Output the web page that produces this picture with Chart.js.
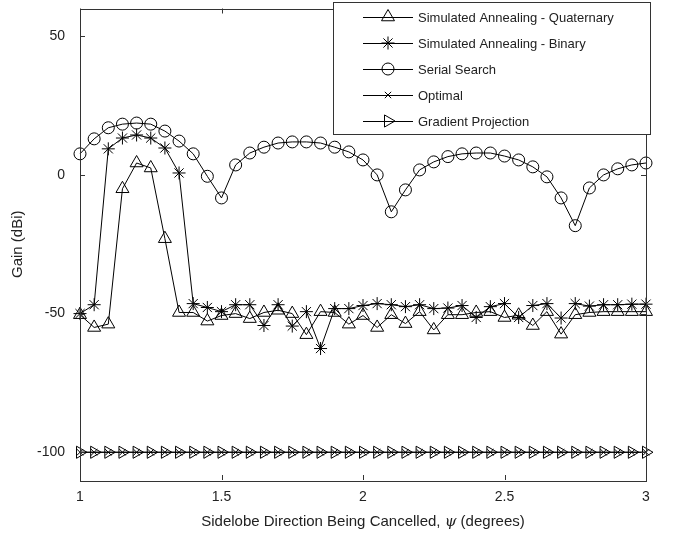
<!DOCTYPE html>
<html>
<head>
<meta charset="utf-8">
<script src="https://cdn.jsdelivr.net/npm/chart.js@4"></script>
<style>
  html, body { margin: 0; padding: 0; background: #fff; }
  #wrap { width: 700px; height: 540px; }
</style>
</head>
<body>
<div id="wrap"><canvas id="gainChart"></canvas></div>
<script>
// sidelobe direction psi (degrees)
const psi = [1.00, 1.05, 1.10, 1.15, 1.20, 1.25, 1.30, 1.35, 1.40, 1.45,
             1.50, 1.55, 1.60, 1.65, 1.70, 1.75, 1.80, 1.85, 1.90, 1.95,
             2.00, 2.05, 2.10, 2.15, 2.20, 2.25, 2.30, 2.35, 2.40, 2.45,
             2.50, 2.55, 2.60, 2.65, 2.70, 2.75, 2.80, 2.85, 2.90, 2.95, 3.00];

const saQuaternary = [-50.4, -55, -53.8, -5, 4.3, 2.5, -23, -49.6, -49.6, -52.7,
                      -50.7, -50, -51.8, -49.6, -48.8, -50, -57.6, -49.3, -49.6, -53.8,
                      -50.7, -55, -50.4, -53.6, -49.3, -55.9, -50.4, -50.4, -49.6, -49.3,
                      -51.4, -50.6, -54.3, -49.3, -57.4, -50.4, -49.6, -49.3, -49.3, -49.3, -49.3];

const saBinary = [-50, -46.8, 9.4, 13.3, 14.4, 13.3, 9.7, 0.7, -46.4, -47.8,
                  -49.3, -46.8, -46.8, -54.3, -46.8, -54.5, -49.3, -62.6, -48.2, -48.2,
                  -47.1, -46.4, -46.8, -47.5, -46.8, -48.2, -48.0, -47.1, -51.4, -47.5,
                  -46.4, -51.4, -47.1, -46.4, -51.6, -46.4, -47.3, -46.8, -46.8, -46.6, -46.6];

const serialSearch = [7.6, 13, 17, 18.3, 18.7, 18.3, 15.8, 12.2, 7.6, -0.5,
                      -8.3, 3.6, 7.9, 10, 11.5, 11.9, 11.9, 11.5, 10, 8.3,
                      5.4, 0, -13.3, -5.4, 1.8, 4.7, 6.6, 7.6, 7.9, 7.9,
                      6.8, 5.4, 2.9, -0.7, -8.3, -18.3, -4.7, 0, 2.2, 3.6, 4.3];

const optimal = [-100, -100, -100, -100, -100, -100, -100, -100, -100, -100,
                 -100, -100, -100, -100, -100, -100, -100, -100, -100, -100,
                 -100, -100, -100, -100, -100, -100, -100, -100, -100, -100,
                 -100, -100, -100, -100, -100, -100, -100, -100, -100, -100, -100];

const gradientProjection = [-100, -100, -100, -100, -100, -100, -100, -100, -100, -100,
                            -100, -100, -100, -100, -100, -100, -100, -100, -100, -100,
                            -100, -100, -100, -100, -100, -100, -100, -100, -100, -100,
                            -100, -100, -100, -100, -100, -100, -100, -100, -100, -100, -100];

const xTicks = [1, 1.5, 2, 2.5, 3];
const yTicks = [-100, -50, 0, 50];

const FONT = '"Liberation Sans", Arial, Helvetica, sans-serif';
const INK = '#222';

function pts(ys) {
    return ys.map((y, i) => ({ x: psi[i], y: y }));
}

function series(label, ys, style, radius, rotation) {
    return {
        label: label,
        data: pts(ys),
        borderColor: '#000',
        borderWidth: 1,
        backgroundColor: 'rgba(0,0,0,0)',
        pointStyle: style,
        pointRadius: radius,
        pointRotation: rotation || 0,
        pointBorderColor: '#000',
        pointBackgroundColor: 'rgba(0,0,0,0)',
        pointBorderWidth: 1,
        tension: 0,
        clip: false
    };
}

// box, inward ticks, legend and axis titles drawn matlab-style
const axesBox = {
    id: 'axesBox',
    afterDraw(chart) {
        const ctx = chart.ctx;
        const a = chart.chartArea;
        const xs = chart.scales.x, ys = chart.scales.y;
        const tl = 5;

        ctx.save();
        ctx.strokeStyle = '#333';
        ctx.lineWidth = 1;
        ctx.strokeRect(Math.round(a.left) + 0.5, Math.round(a.top) + 0.5,
                       Math.round(a.right - a.left), Math.round(a.bottom - a.top));
        ctx.beginPath();
        xTicks.forEach(v => {
            const px = Math.round(xs.getPixelForValue(v)) + 0.5;
            ctx.moveTo(px, a.bottom); ctx.lineTo(px, a.bottom - tl);
            ctx.moveTo(px, a.top); ctx.lineTo(px, a.top + tl);
        });
        yTicks.forEach(v => {
            const py = Math.round(ys.getPixelForValue(v)) + 0.5;
            ctx.moveTo(a.left, py); ctx.lineTo(a.left + tl, py);
            ctx.moveTo(a.right, py); ctx.lineTo(a.right - tl, py);
        });
        ctx.stroke();

        // axis titles
        ctx.fillStyle = INK;
        ctx.textBaseline = 'middle';
        const p1 = 'Sidelobe Direction Being Cancelled, ';
        const p2 = '\u03C8';
        const p3 = ' (degrees)';
        ctx.font = '15px ' + FONT;
        const w1 = ctx.measureText(p1).width, w3 = ctx.measureText(p3).width;
        ctx.font = 'italic 15px "DejaVu Serif", serif';
        const w2 = ctx.measureText(p2).width;
        let tx = (a.left + a.right) / 2 - (w1 + w2 + w3) / 2;
        const ty = 522;
        ctx.textAlign = 'left';
        ctx.font = '15px ' + FONT;
        ctx.fillText(p1, tx, ty);
        ctx.font = 'italic 15px "DejaVu Serif", serif';
        ctx.fillText(p2, tx + w1, ty);
        ctx.font = '15px ' + FONT;
        ctx.fillText(p3, tx + w1 + w2, ty);

        ctx.save();
        ctx.translate(18, (a.top + a.bottom) / 2);
        ctx.rotate(-Math.PI / 2);
        ctx.textAlign = 'center';
        ctx.fillText('Gain (dBi)', 0, 0);
        ctx.restore();

        // legend
        const lx = 333, ly = 2, lw = 317, lh = 132;
        ctx.fillStyle = '#fff';
        ctx.fillRect(lx, ly, lw, lh);
        ctx.strokeStyle = '#333';
        ctx.strokeRect(lx + 0.5, ly + 0.5, lw, lh);
        ctx.font = '13px ' + FONT;
        ctx.textAlign = 'left';
        chart.data.datasets.forEach((ds, i) => {
            const cy = 17 + i * 26;
            ctx.strokeStyle = '#000';
            ctx.lineWidth = 1;
            ctx.beginPath();
            ctx.moveTo(363, cy + 0.5);
            ctx.lineTo(413, cy + 0.5);
            ctx.stroke();
            ctx.fillStyle = 'rgba(0,0,0,0)';
            Chart.helpers.drawPoint(ctx, {
                pointStyle: ds.pointStyle,
                radius: ds.pointRadius,
                rotation: ds.pointRotation,
                borderWidth: 1
            }, 388, cy);
            ctx.fillStyle = INK;
            ctx.fillText(ds.label, 418, cy + 1);
        });
        ctx.restore();
    }
};

const gainCtx = document.getElementById('gainChart');
if (gainCtx) {
    const gainChart = new Chart(gainCtx, {
        type: 'line',
        data: {
            datasets: [
                series('Simulated Annealing - Quaternary', saQuaternary, 'triangle', 7.5),
                series('Simulated Annealing - Binary', saBinary, 'star', 6.5),
                series('Serial Search', serialSearch, 'circle', 6),
                series('Optimal', optimal, 'crossRot', 4.5),
                series('Gradient Projection', gradientProjection, 'triangle', 7, 90)
            ]
        },
        options: {
            responsive: true,
            maintainAspectRatio: false,
            animation: false,
            layout: { padding: { left: 0, right: 54, top: 7, bottom: 0 } },
            plugins: {
                legend: { display: false },
                tooltip: { enabled: false }
            },
            scales: {
                x: {
                    type: 'linear',
                    min: 1,
                    max: 3,
                    afterBuildTicks: s => { s.ticks = xTicks.map(v => ({ value: v })); },
                    afterFit: s => { s.height = 60; },
                    grid: { display: false },
                    border: { display: false },
                    ticks: {
                        color: INK,
                        font: { family: FONT, size: 14 },
                        padding: 1,
                        maxRotation: 0,
                        callback: v => String(v)
                    }
                },
                y: {
                    min: -110,
                    max: 60,
                    afterBuildTicks: s => { s.ticks = yTicks.map(v => ({ value: v })); },
                    afterFit: s => { s.width = 80; s.paddingTop = 0; s.paddingBottom = 0; },
                    grid: { display: false },
                    border: { display: false },
                    ticks: {
                        color: INK,
                        font: { family: FONT, size: 14 },
                        padding: 7
                    }
                }
            }
        },
        plugins: [axesBox]
    });
}
</script>
</body>
</html>
